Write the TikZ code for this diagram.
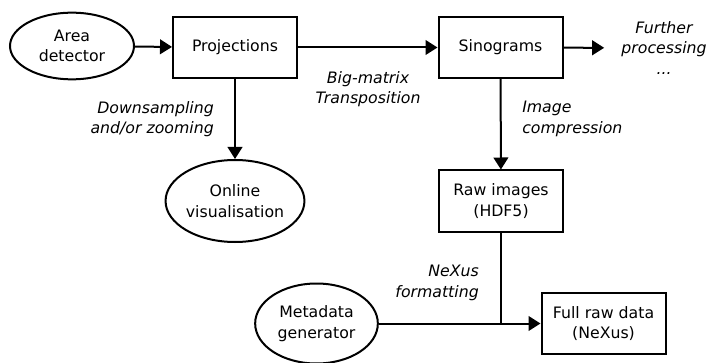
\documentclass[tikz,border=0pt]{standalone}
\usepackage{fontspec}
\setmainfont{DejaVu Sans}
\usetikzlibrary{shapes.geometric,arrows.meta}
\begin{document}
\begin{tikzpicture}[x=0.75pt,y=-0.75pt,
  every node/.style={font=\fontsize{11.8}{15.5}\selectfont, inner sep=0pt},
  boxnode/.style={draw, line width=1.5pt, minimum width=93pt, minimum height=45.75pt, align=center},
  ellnode/.style={draw, ellipse, line width=1.5pt, align=center},
  lbl/.style={font=\fontsize{11.8}{15.5}\selectfont\itshape},
  conn/.style={line width=1.5pt},
  arr/.style={conn, -{Triangle[length=9pt,width=11pt]}}]
\useasboundingbox (0,0) rectangle (709,363);
\node[ellnode, minimum width=93pt, minimum height=50pt] (area) at (72,46) {Area\\detector};
\node[boxnode] (proj) at (235,47.5) {Projections};
\node[boxnode] (sino) at (500.5,47.5) {Sinograms};
\node[lbl, align=center, inner xsep=12.75pt] (further) at (664,48) {Further\\processing\\...};
\node[ellnode, minimum width=93pt, minimum height=61.5pt] (online) at (235,201) {Online\\visualisation};
\node[boxnode] (raw) at (501,201) {Raw images\\(HDF5)};
\node[ellnode, minimum width=92pt, minimum height=60pt] (meta) at (316.5,323.5) {Metadata\\generator};
\node[boxnode] (full) at (603.5,323.5) {Full raw data\\(NeXus)};
\coordinate (junc) at (501,323.5);
\node[lbl, align=center] (bigm) at (368,89) {Big-matrix\\Transposition};
\node[lbl, align=right, anchor=east] (down) at (214,119) {Downsampling\\and/or zooming};
\node[lbl, align=left, anchor=west] (icomp) at (522,119) {Image\\compression};
\node[lbl, align=right, anchor=east] (nexf) at (479,283) {NeXus\\formatting};
\draw[arr] (area) -- (proj);
\draw[arr] (proj) -- (sino);
\draw[arr] (sino) -- (further);
\draw[arr] (proj) -- (online);
\draw[arr] (sino) -- (raw);
\draw[conn] (raw) -- (junc);
\draw[arr] (meta) -- (full);
\end{tikzpicture}
\end{document}
